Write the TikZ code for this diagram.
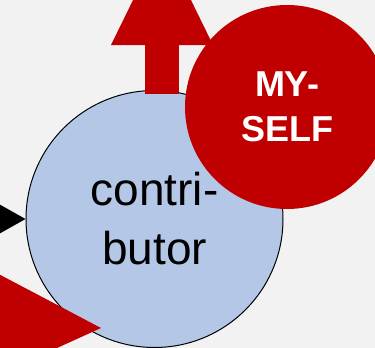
\documentclass[tikz,border=0pt]{standalone}
\usepackage{fontspec}
\setmainfont{Liberation Sans}
\usetikzlibrary{arrows.meta}
\definecolor{rolefill}{HTML}{B4C7E7}
\definecolor{selfred}{HTML}{C00000}
\definecolor{pagebg}{HTML}{F2F2F2}

\begin{document}
\begin{tikzpicture}[
  x=1pt, y=-1pt,
  role/.style={circle, draw=black, line width=1pt, fill=rolefill, inner sep=0pt, minimum size=257pt, align=center, font=\fontsize{46}{59}\selectfont},
  badge/.style={circle, fill=selfred, text=white, inner sep=0pt, minimum size=204pt, align=center, font=\fontsize{36}{45}\selectfont\bfseries},
  blockarr/.style={selfred, line width=34pt, -{Triangle[length=104pt, width=102pt, line width=0pt]}},
  inarr/.style={black, line width=2pt, -{Triangle[length=32pt, width=36pt, line width=0pt]}}
]
\useasboundingbox (0,0) rectangle (375,348);
\clip (0,0) rectangle (375,348);
\fill[pagebg] (0,0) rectangle (375,348);

\node[role] (contrib) at (154.5,219) {contri-\\butor};

\coordinate (feed) at (-60,219);
\coordinate (stem) at (162,94);
\coordinate (up) at (162,-59);
\coordinate (push) at (-199,319.3);
\coordinate (pushtip) at (101,328);

\draw[inarr] (feed) -- (contrib.west);
\draw[blockarr] (stem) -- (up);
\draw[blockarr] (push) -- (pushtip);

\node[badge] (myself) at (287,107) {MY-\\SELF};
\end{tikzpicture}
\end{document}
